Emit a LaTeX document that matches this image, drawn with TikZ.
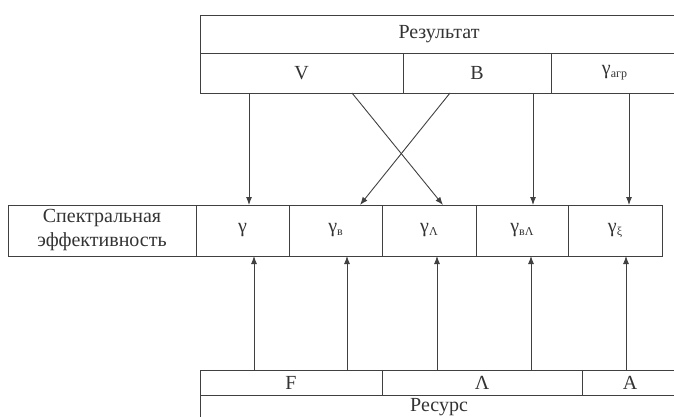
\documentclass[tikz,border=0pt]{standalone}
\usepackage{fontspec}
\setmainfont{Liberation Serif}
\usetikzlibrary{arrows.meta}
\newcommand{\lowsub}[1]{\raisebox{-3pt}{\fontsize{12}{12}\selectfont #1}}
\tikzset{
  lc/.style={draw=black!75, line width=0.9pt},
  cell/.style={lc, rectangle, inner sep=0pt, outer sep=0pt, anchor=north west,
    text=black!80, font=\fontsize{20}{24}\selectfont, align=center},
  arr/.style={draw=black!75, line width=0.9pt, -{Latex[length=8pt,width=6pt]}},
}
\begin{document}
\begin{tikzpicture}[x=1pt,y=-1pt]
\useasboundingbox (0,0) rectangle (674,417);
\clip (0,0) rectangle (674,417);
% top block
\node[cell, minimum width=478pt, minimum height=38pt] (res) at (200,15) {Результат};
\node[cell, minimum width=203pt, minimum height=40pt] (V) at (200,53) {V};
\node[cell, minimum width=148pt, minimum height=40pt] (B) at (403,53) {B};
\node[cell, minimum width=127pt, minimum height=40pt] (Gagr) at (551,53) {γ\lowsub{агр}};
% middle row
\node[cell, minimum width=188pt, minimum height=51pt] (spec) at (8,205) {Спектральная\\эффективность};
\node[cell, minimum width=93pt, minimum height=51pt] (g1) at (196,205) {γ};
\node[cell, minimum width=93pt, minimum height=51pt] (g2) at (289,205) {γ\lowsub{в}};
\node[cell, minimum width=94pt, minimum height=51pt] (g3) at (382,205) {γ\lowsub{Λ}};
\node[cell, minimum width=92pt, minimum height=51pt] (g4) at (476,205) {γ\lowsub{вΛ}};
\node[cell, minimum width=94pt, minimum height=51pt] (g5) at (568,205) {γ\lowsub{ξ}};
% bottom block
\node[cell, minimum width=182pt, minimum height=25pt] (F) at (200,370) {F};
\node[cell, minimum width=200pt, minimum height=25pt] (L) at (382,370) {Λ};
\node[cell, minimum width=96pt, minimum height=25pt] (A) at (582,370) {A};
\node[cell, minimum width=478pt, minimum height=25pt] (resurs) at (200,395) {Ресурс};
% arrow positions
\coordinate (t1) at (249,0);
\coordinate (t4) at (533,0);
\coordinate (t5) at (629,0);
\coordinate (c1s) at (352,0);
\coordinate (c1e) at (443,0);
\coordinate (c2s) at (450,0);
\coordinate (c2e) at (360,0);
\coordinate (b1) at (254,0);
\coordinate (b2) at (347,0);
\coordinate (b3) at (437,0);
\coordinate (b4) at (531,0);
\coordinate (b5) at (626,0);
% top arrows
\draw[arr] (V.south -| t1) -- (g1.north -| t1);
\draw[arr] (V.south -| c1s) -- (g3.north -| c1e);
\draw[arr] (B.south -| c2s) -- (g2.north -| c2e);
\draw[arr] (B.south -| t4) -- (g4.north -| t4);
\draw[arr] (Gagr.south -| t5) -- (g5.north -| t5);
% bottom arrows
\draw[arr] (F.north -| b1) -- (g1.south -| b1);
\draw[arr] (F.north -| b2) -- (g2.south -| b2);
\draw[arr] (L.north -| b3) -- (g3.south -| b3);
\draw[arr] (L.north -| b4) -- (g4.south -| b4);
\draw[arr] (A.north -| b5) -- (g5.south -| b5);
\end{tikzpicture}
\end{document}
